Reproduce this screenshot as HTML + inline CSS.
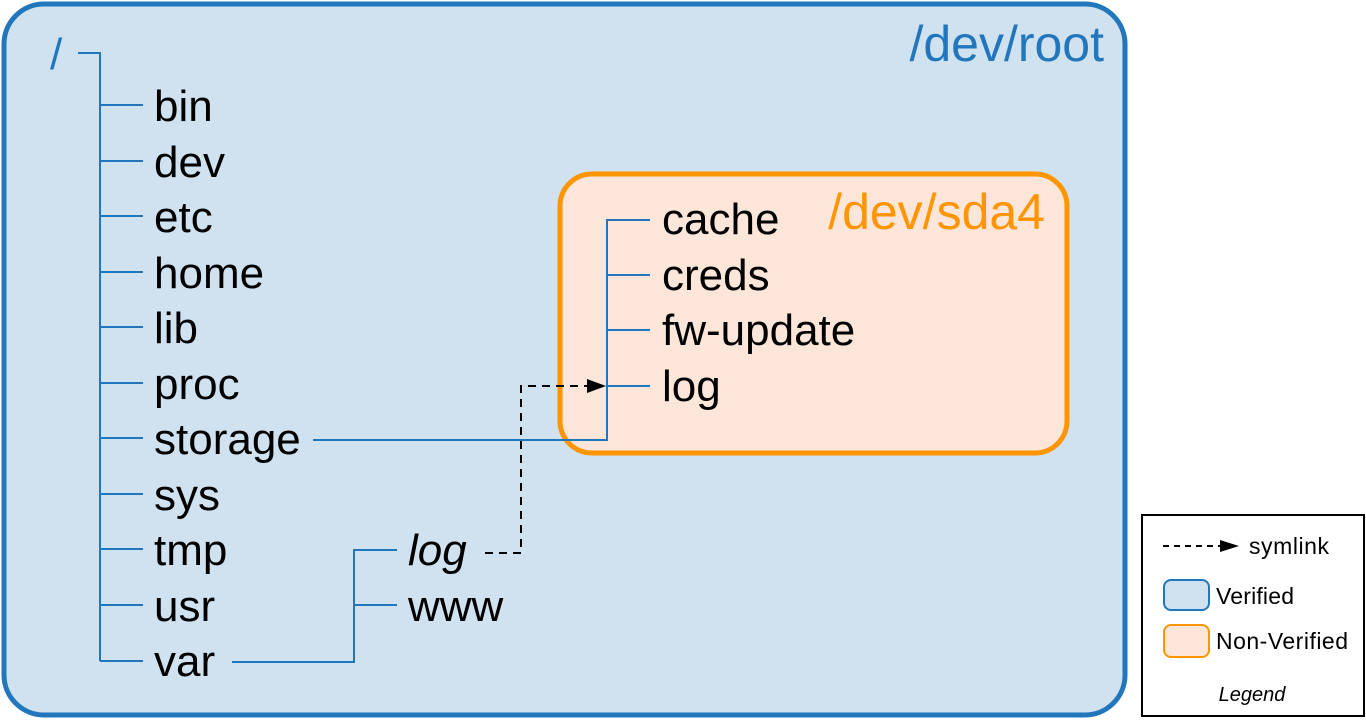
<!DOCTYPE html>
<html><head><meta charset="utf-8"><style>html,body{margin:0;padding:0;background:#fff}svg{display:block}</style></head>
<body>
<svg width="1366" height="720" viewBox="0 0 1366 720" xmlns="http://www.w3.org/2000/svg" font-family="Liberation Sans, Arial, sans-serif">
<rect x="4" y="4" width="1121" height="711" rx="40" fill="#D0E2F0" stroke="#2176BC" stroke-width="5"/>
<rect x="560" y="174" width="507" height="279" rx="32" fill="#FCE5D9" stroke="#FF9500" stroke-width="5"/>
<g stroke="#2176BC" stroke-width="2" fill="none">
<path d="M78 53H100V661"/>
<path d="M100 105H143M100 161H143M100 216H143M100 272H143M100 327H143M100 383H143M100 438H143M100 494H143M100 549H143M100 605H143M100 661H143"/>
<path d="M313 440H607V220H650M607 275H650M607 330H650M607 386H650"/>
<path d="M232 662H354V550H397M354 605H397"/>
</g>
<g stroke="#000" stroke-width="2" fill="none" stroke-dasharray="8,6">
<path d="M485 553H521V386H588"/>
</g>
<path d="M587 379L606 386L587 393Z" fill="#000"/>
<text x="50" y="69" font-size="44" fill="#2176BC">/</text>
<text x="1104" y="61" font-size="50" fill="#2176BC" text-anchor="end">/dev/root</text>
<text x="1045" y="229" font-size="50" fill="#FF9500" text-anchor="end">/dev/sda4</text>
<g font-size="44" fill="#000">
<text x="154" y="121">bin</text>
<text x="154" y="177">dev</text>
<text x="154" y="232">etc</text>
<text x="154" y="288">home</text>
<text x="154" y="343">lib</text>
<text x="154" y="399">proc</text>
<text x="154" y="454">storage</text>
<text x="154" y="510">sys</text>
<text x="154" y="565">tmp</text>
<text x="154" y="621">usr</text>
<text x="154" y="676">var</text>
<text x="662" y="234">cache</text>
<text x="662" y="290">creds</text>
<text x="662" y="345">fw-update</text>
<text x="662" y="401">log</text>
<text x="408" y="565" font-style="italic">log</text>
<text x="408" y="621">www</text>
</g>
<rect x="1142" y="515" width="222" height="201" fill="#fff" stroke="#000" stroke-width="2"/>
<path d="M1163 546H1224" stroke="#000" stroke-width="2" stroke-dasharray="6,5"/>
<path d="M1220 540L1239 546L1220 552Z" fill="#000"/>
<text x="1249" y="554" font-size="23" textLength="80">symlink</text>
<rect x="1164" y="580" width="45" height="30" rx="7" fill="#D0E2F0" stroke="#2176BC" stroke-width="2"/>
<text x="1216" y="604" font-size="23" textLength="78">Verified</text>
<rect x="1164" y="625" width="45" height="32" rx="7" fill="#FCE5D9" stroke="#FF9500" stroke-width="2"/>
<text x="1216" y="649" font-size="23" textLength="132">Non-Verified</text>
<text x="1252" y="701" font-size="20" font-style="italic" text-anchor="middle">Legend</text>
</svg>
</body></html>
